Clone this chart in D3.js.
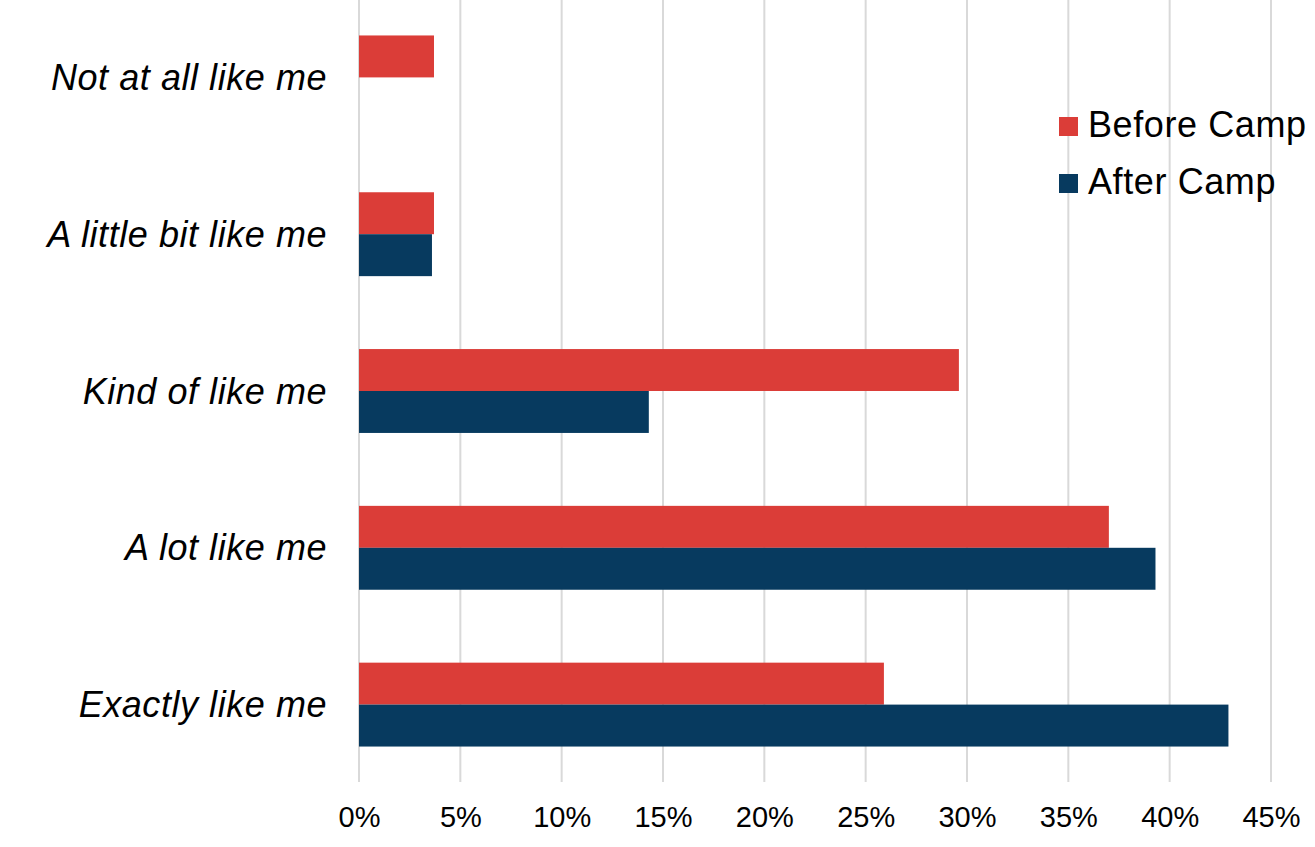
<!DOCTYPE html>
<html>
<head>
<meta charset="utf-8">
<script src="https://cdn.jsdelivr.net/npm/d3@7/dist/d3.min.js"></script>
<style>
  html, body { margin: 0; padding: 0; background: #fff; }
  svg { display: block; }
  text { font-family: "Liberation Sans", Arial, sans-serif; fill: #000; }
</style>
</head>
<body>
<svg id="chart" width="1315" height="847"></svg>
<script>
const categories = ["Not at all like me", "A little bit like me", "Kind of like me", "A lot like me", "Exactly like me"];
const seriesNames = ["Before Camp", "After Camp"];
const beforeCamp = [3.7, 3.7, 29.6, 37.0, 25.9];
const afterCamp = [0, 3.6, 14.3, 39.3, 42.9];
const tickValues = [0, 5, 10, 15, 20, 25, 30, 35, 40, 45];
const colors = ["#DB3D38", "#073A5F"];

const svg = d3.select("#chart");
const x = d3.scaleLinear().domain([0, 45]).range([359, 1271]);
const y = d3.scaleBand().domain(categories).range([-1, 783]).paddingInner(0.465).paddingOuter(0.2325);
const ySub = d3.scaleBand().domain(seriesNames).range([0, y.bandwidth()]);

// gridlines
svg.append("g").selectAll("line").data(tickValues).join("line")
  .attr("x1", d => x(d)).attr("x2", d => x(d))
  .attr("y1", 0).attr("y2", 782)
  .attr("stroke", "#d9d9d9").attr("stroke-width", 2);

// bars
const data = categories.map((c, i) => ({ c, vals: [beforeCamp[i], afterCamp[i]] }));
const groups = svg.append("g").selectAll("g").data(data).join("g")
  .attr("transform", d => `translate(0,${y(d.c)})`);
groups.selectAll("rect").data(d => d.vals.map((v, j) => ({ v, s: seriesNames[j], j })))
  .join("rect")
  .attr("x", x(0))
  .attr("y", d => ySub(d.s))
  .attr("width", d => x(d.v) - x(0))
  .attr("height", ySub.bandwidth())
  .attr("fill", d => colors[d.j]);

// x axis labels
const xAxis = d3.axisBottom(x).tickValues(tickValues).tickFormat(d => d + "%").tickSize(0).tickPadding(0);
const gx = svg.append("g").attr("transform", "translate(0,805)").call(xAxis);
gx.select(".domain").remove();
gx.selectAll("text").attr("font-size", 29).attr("font-family", "Liberation Sans, Arial, sans-serif")
  .attr("fill", "#000").attr("dy", "0.76em").attr("y", 0);

// category labels
const yAxis = d3.axisLeft(y).tickSize(0).tickPadding(0);
const gy = svg.append("g").attr("transform", "translate(327,0)").call(yAxis);
gy.select(".domain").remove();
gy.selectAll("text").attr("font-size", 36).attr("font-style", "italic")
  .attr("letter-spacing", "0.55px")
  .attr("font-family", "Liberation Sans, Arial, sans-serif").attr("fill", "#000").attr("dy", "0.35em");

// legend
const legend = svg.append("g").selectAll("g").data(seriesNames).join("g")
  .attr("transform", (d, i) => `translate(1059,${117 + i * 57})`);
legend.append("rect").attr("width", 19).attr("height", 19).attr("fill", (d, i) => colors[i]);
legend.append("text").attr("x", 29).attr("y", 20).attr("font-size", 36)
  .attr("letter-spacing", "0.6px").text(d => d);
</script>
</body>
</html>
